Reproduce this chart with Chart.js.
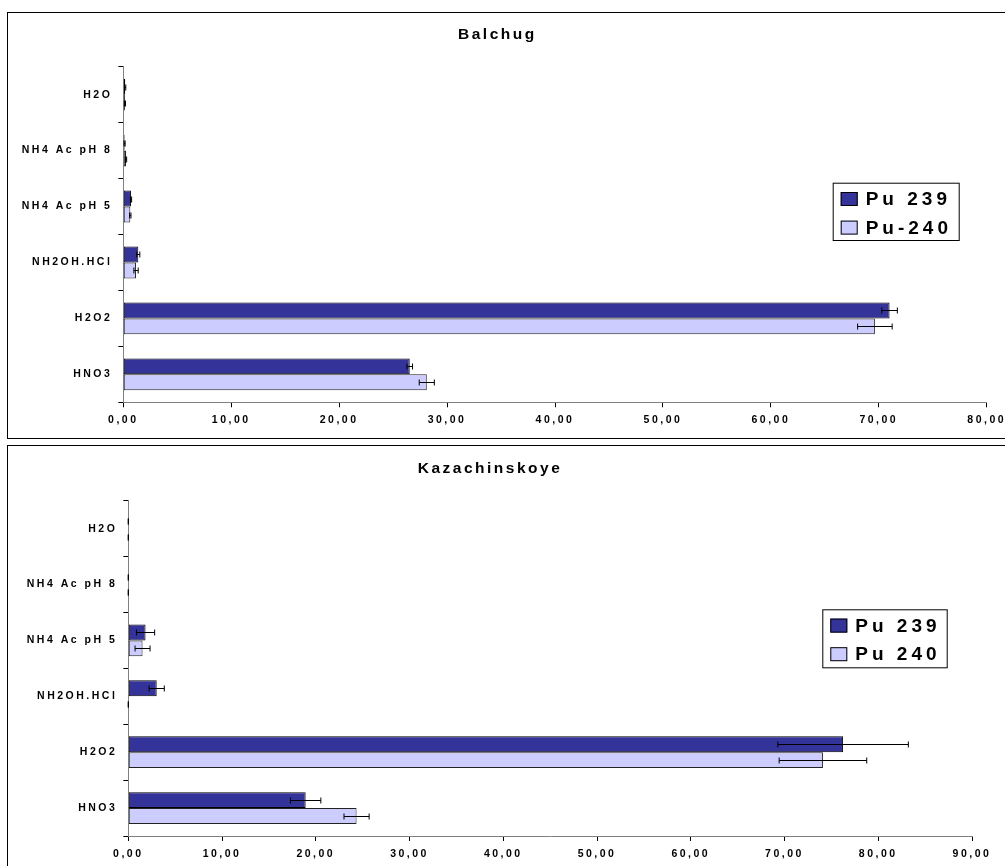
<!DOCTYPE html>
<html>
<head>
<meta charset="utf-8">
<script src="https://cdn.jsdelivr.net/npm/chart.js@4.4.1/dist/chart.umd.min.js"></script>
<style>
  html, body { margin: 0; padding: 0; background: #fff; overflow: hidden; width: 1005px; height: 866px; }
  .box { position: absolute; left: 7px; width: 998px; height: 425px; border: 1px solid #000; }
  #box1 { top: 12px; }
  #box2 { top: 445px; }
  canvas { display: block; }
</style>
</head>
<body>
<div class="box" id="box1"><canvas id="balchug" width="998" height="425"></canvas></div>
<div class="box" id="box2"><canvas id="kazach" width="998" height="425"></canvas></div>
<script>
// fractions, top to bottom
const categories = ["H2O", "NH4 Ac pH 8", "NH4 Ac pH 5", "NH2OH.HCl", "H2O2", "HNO3"];

// Balchug
const balchugPu239 = [0.18, 0.12, 0.71, 1.39, 71.00, 26.54];
const balchugPu239Err = [0.05, 0.05, 0.06, 0.14, 0.72, 0.26];
const balchugPu240 = [0.15, 0.25, 0.65, 1.18, 69.64, 28.12];
const balchugPu240Err = [0.05, 0.06, 0.06, 0.20, 1.60, 0.70];

// Kazachinskoye
const kazPu239 = [0, 0, 1.84, 3.03, 76.25, 18.92];
const kazPu239Err = [0, 0, 0.97, 0.81, 6.96, 1.62];
const kazPu240 = [0, 0, 1.52, 0, 74.10, 24.35];
const kazPu240Err = [0, 0, 0.80, 0, 4.67, 1.34];

const darkBlue = "#333399";
const lightBlue = "#ccccff";

Chart.defaults.font.family = "'Liberation Sans', Arial, sans-serif";
Chart.defaults.font.weight = "bold";
Chart.defaults.font.size = 10.5;
Chart.defaults.color = "#000";

// Excel-like wide lettering
const spacing = {
  id: "spacing",
  beforeLayout(chart) { chart.ctx.letterSpacing = "2.5px"; },
  beforeDraw(chart) { chart.ctx.letterSpacing = "2.5px"; }
};

const errorBars = {
  id: "errorBars",
  afterDatasetsDraw(chart) {
    const ctx = chart.ctx;
    const xs = chart.scales.x;
    chart.data.datasets.forEach((ds, i) => {
      const meta = chart.getDatasetMeta(i);
      meta.data.forEach((bar, j) => {
        const v = ds.data[j], e = ds.errors[j];
        const x1 = xs.getPixelForValue(v - e);
        const x2 = xs.getPixelForValue(v + e);
        const y = Math.round(bar.y) + 0.5;
        ctx.save();
        ctx.strokeStyle = "#000";
        ctx.lineWidth = 1;
        ctx.beginPath();
        ctx.moveTo(x1, y); ctx.lineTo(x2, y);
        ctx.moveTo(x1, y - 3); ctx.lineTo(x1, y + 3);
        ctx.moveTo(x2, y - 3); ctx.lineTo(x2, y + 3);
        ctx.stroke();
        ctx.restore();
      });
    });
  }
};

// boxed legend sitting inside the plot
const boxLegend = {
  id: "boxLegend",
  afterDraw(chart, args, opts) {
    const ctx = chart.ctx;
    ctx.save();
    ctx.fillStyle = "#fff";
    ctx.fillRect(opts.left, opts.top, opts.width, opts.height);
    ctx.strokeStyle = "#000";
    ctx.lineWidth = 1;
    ctx.strokeRect(opts.left + 0.5, opts.top + 0.5, opts.width, opts.height);
    ctx.font = "bold 19px 'Liberation Sans', Arial, sans-serif";
    ctx.letterSpacing = "4px";
    ctx.textBaseline = "middle";
    ctx.textAlign = "left";
    chart.data.datasets.forEach((ds, i) => {
      const cy = opts.top + 16.3 + i * 28.6;
      ctx.fillStyle = ds.backgroundColor;
      ctx.fillRect(opts.left + 8, cy - 7, 17, 14);
      ctx.strokeStyle = "#000";
      ctx.strokeRect(opts.left + 8.5, cy - 6.5, 16, 13);
      ctx.fillStyle = "#000";
      ctx.fillText(ds.label, opts.left + 33, cy + 1);
    });
    ctx.restore();
  }
};

function commaTick(v) {
  return Number(v).toFixed(2).replace(".", ",");
}

function makeChart(id, title, labels239, labels240, d239, e239, d240, e240, xMax, lay) {
  return new Chart(document.getElementById(id), {
    type: "bar",
    data: {
      labels: categories,
      datasets: [
        { label: labels239, data: d239, errors: e239, backgroundColor: darkBlue,
          borderColor: "#000", borderWidth: 1, borderSkipped: false,
          categoryPercentage: 0.57, barPercentage: 1 },
        { label: labels240, data: d240, errors: e240, backgroundColor: lightBlue,
          borderColor: "#222", borderWidth: 1, borderSkipped: false,
          categoryPercentage: 0.57, barPercentage: 1 }
      ]
    },
    options: {
      indexAxis: "y",
      responsive: false,
      animation: false,
      devicePixelRatio: 1,
      layout: { padding: { left: 0, right: lay.right, top: 0, bottom: 0 } },
      plugins: {
        legend: { display: false },
        tooltip: { enabled: false },
        title: {
          display: true, text: title,
          font: { size: 15.5, weight: "bold" }, color: "#000",
          padding: { top: lay.titleTop, bottom: lay.titleBottom }
        },
        boxLegend: lay.legend
      },
      scales: {
        x: {
          min: 0, max: xMax,
          ticks: { stepSize: 10, padding: 7, callback: commaTick, color: "#000" },
          grid: { drawOnChartArea: false, tickLength: 5, tickColor: "#000" },
          border: { color: "#808080", width: 1 },
          afterFit(s) { s.height = lay.xHeight; s.paddingLeft = 0; s.paddingRight = 0; }
        },
        y: {
          ticks: { padding: 6, color: "#000" },
          grid: { drawOnChartArea: false, tickLength: 5, tickColor: "#000" },
          border: { color: "#808080", width: 1 },
          afterFit(s) { s.width = lay.yWidth; s.paddingTop = 0; s.paddingBottom = 0; }
        }
      }
    },
    plugins: [spacing, errorBars, boxLegend]
  });
}

makeChart("balchug", "Balchug", "Pu 239", "Pu-240",
  balchugPu239, balchugPu239Err, balchugPu240, balchugPu240Err, 80,
  { right: 19.3, titleTop: 12, titleBottom: 23.1, xHeight: 35.7, yWidth: 115.3,
    legend: { left: 824.7, top: 169.7, width: 126, height: 57.3 } });

makeChart("kazach", "Kazachinskoye", "Pu 239", "Pu 240",
  kazPu239, kazPu239Err, kazPu240, kazPu240Err, 90,
  { right: 34, titleTop: 13.3, titleBottom: 22.8, xHeight: 35, yWidth: 120.3,
    legend: { left: 814.3, top: 163.3, width: 124.4, height: 58 } });
</script>
</body>
</html>
